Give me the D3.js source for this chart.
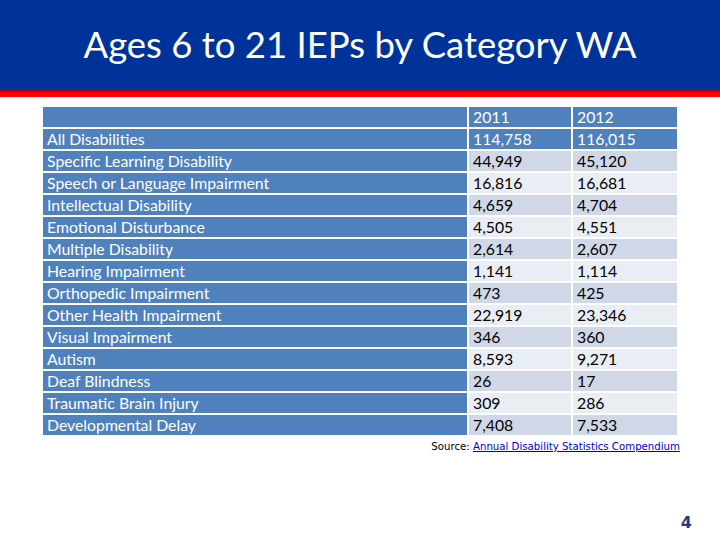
<!DOCTYPE html>
<html><head><meta charset="utf-8">
<script src="https://cdn.jsdelivr.net/npm/d3@7"></script>
<style>body{margin:0;background:#fff}svg{display:block}</style>
</head><body>
<script>
const title = "Ages 6 to 21 IEPs by Category WA";
const years = ["2011", "2012"];
const categories = ["All Disabilities","Specific Learning Disability","Speech or Language Impairment","Intellectual Disability","Emotional Disturbance","Multiple Disability","Hearing Impairment","Orthopedic Impairment","Other Health Impairment","Visual Impairment","Autism","Deaf Blindness","Traumatic Brain Injury","Developmental Delay"];
const values2011 = [114758,44949,16816,4659,4505,2614,1141,473,22919,346,8593,26,309,7408];
const values2012 = [116015,45120,16681,4704,4551,2607,1114,425,23346,360,9271,17,286,7533];
const sourceLabel = "Source: ";
const sourceLink = "Annual Disability Statistics Compendium";
const pageNumber = "4";

const W = 720, H = 540;
const svg = d3.select("body").append("svg").attr("width", W).attr("height", H);

// header band
svg.append("rect").attr("x",0).attr("y",0).attr("width",W).attr("height",90).attr("fill","#003399");
svg.append("rect").attr("x",0).attr("y",90).attr("width",W).attr("height",2).attr("fill","#B00018");
svg.append("rect").attr("x",0).attr("y",92).attr("width",W).attr("height",5).attr("fill","#FF0000");
svg.append("text").attr("x",360).attr("y",58).attr("text-anchor","middle")
  .attr("font-family","Lato, 'Open Sans', sans-serif").attr("font-size",36.5).attr("fill","#fff").text(title);

// table
const y = d3.scaleBand().domain(d3.range(categories.length + 1)).range([107,435]).paddingInner(0.09).paddingOuter(0);
const colEdges = [43, 469, 573, 679]; // column edges
const colX = d3.scaleOrdinal().domain([0,1,2]).range(colEdges.slice(0,3));
const colW = i => colEdges[i+1] - colEdges[i] - 2;

const rows = [{cells:["", years[0], years[1]], head:true}].concat(
  categories.map((c,i)=>({cells:[c, d3.format(",")(values2011[i]), d3.format(",")(values2012[i])], head:i===0, idx:i}))
);
const fmtFill = (r, ci, ri) => {
  if (ci === 0 || r.head) return "#4F81BD";
  return (ri % 2 === 0) ? "#D0D8E8" : "#E9EDF4";
};
const g = svg.append("g");
rows.forEach((r, ri) => {
  r.cells.forEach((txt, ci) => {
    g.append("rect").attr("x", colX(ci)).attr("y", y(ri)).attr("width", colW(ci)).attr("height", y.bandwidth())
      .attr("fill", fmtFill(r, ci, ri));
    g.append("text").attr("x", colX(ci)+4).attr("y", y(ri)+y.bandwidth()/2).attr("dy","0.36em")
      .attr("font-family","Lato, 'Open Sans', sans-serif").attr("font-size",15.8)
      .attr("fill", (ci===0 || r.head) ? "#fff" : "#000").text(txt);
  });
});

// source
const src = svg.append("text").attr("x",680).attr("y",450).attr("text-anchor","end")
  .attr("font-family","'DejaVu Sans', Verdana, sans-serif").attr("font-size",10.2);
src.append("tspan").attr("fill","#000").text(sourceLabel);
src.append("tspan").attr("fill","#0000CC").attr("text-decoration","underline").text(sourceLink);

svg.append("text").attr("x",692).attr("y",528).attr("text-anchor","end").attr("font-weight","bold")
  .attr("font-family","'DejaVu Sans', sans-serif").attr("font-size",16).attr("fill","#1F3C88").text(pageNumber);
</script>
</body></html>
